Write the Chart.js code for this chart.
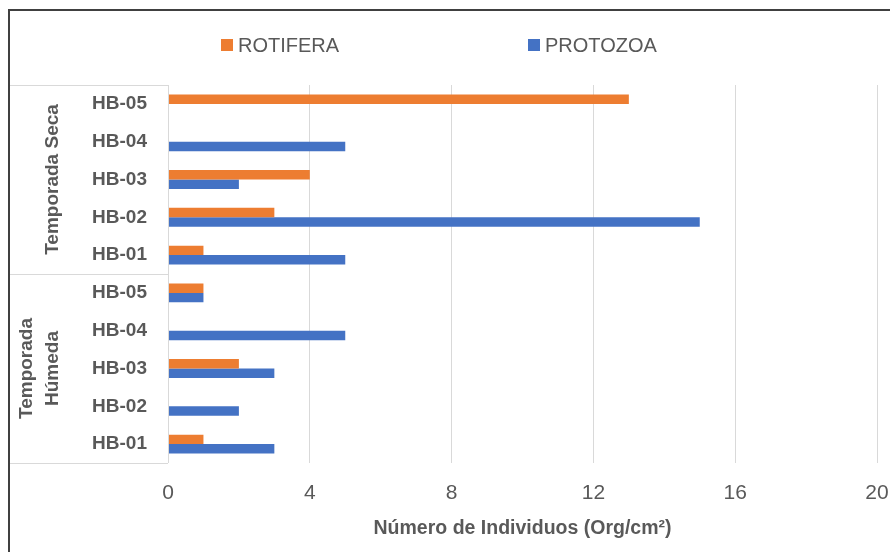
<!DOCTYPE html>
<html>
<head>
<meta charset="utf-8">
<title>Número de Individuos</title>
<script src="https://cdn.jsdelivr.net/npm/chart.js@4.4.1/dist/chart.umd.min.js"></script>
<style>
  html, body { margin: 0; padding: 0; background: #fff; }
  #wrap { position: relative; width: 890px; height: 552px; }
</style>
</head>
<body>
<div id="wrap"><canvas id="barGraph" width="890" height="552"></canvas></div>
<script>
// data (top row first)
const stations = ["HB-05", "HB-04", "HB-03", "HB-02", "HB-01", "HB-05", "HB-04", "HB-03", "HB-02", "HB-01"];
const rotifera = [13, 0, 4, 3, 1, 1, 0, 2, 0, 1];
const protozoa = [0, 5, 2, 15, 5, 1, 5, 3, 2, 3];
const seasonNames = [["Temporada Seca"], ["Temporada", "Húmeda"]];
const seasonSizes = [5, 5];
const xTicks = [0, 4, 8, 12, 16, 20];

const FONT = '"Liberation Sans Narrow", "Arial Narrow", "Liberation Sans", Arial, sans-serif';
const GREY = "#595959";
const LINE = "#d9d9d9";

// legend + season group box + outer frame
const decor = {
  id: "decor",
  afterDraw(chart) {
    const ctx = chart.ctx;
    const area = chart.chartArea;
    const y = chart.scales.y;
    ctx.save();

    // outer frame (only top and left show in the crop)
    ctx.strokeStyle = "#404040";
    ctx.lineWidth = 2;
    ctx.beginPath();
    ctx.moveTo(9, 552);
    ctx.lineTo(9, 10);
    ctx.lineTo(890, 10);
    ctx.stroke();

    // legend
    const legendX = [221, 528];
    ctx.font = "20px " + FONT;
    ctx.textBaseline = "middle";
    ctx.textAlign = "left";
    chart.data.datasets.forEach((ds, i) => {
      ctx.fillStyle = ds.backgroundColor;
      ctx.fillRect(legendX[i], 39, 12, 12);
      ctx.fillStyle = GREY;
      ctx.fillText(ds.label, legendX[i] + 17, 46);
    });

    // season boxes
    ctx.strokeStyle = LINE;
    ctx.lineWidth = 1;
    const half = (y.getPixelForValue(1) - y.getPixelForValue(0)) / 2;
    let start = 0;
    seasonSizes.forEach((n, g) => {
      const top = y.getPixelForValue(start) - half;
      const bottom = y.getPixelForValue(start + n - 1) + half;
      ctx.beginPath();
      ctx.moveTo(10, Math.round(top) + 0.5);
      ctx.lineTo(area.left, Math.round(top) + 0.5);
      ctx.moveTo(10, Math.round(bottom) + 0.5);
      ctx.lineTo(area.left, Math.round(bottom) + 0.5);
      ctx.stroke();

      const lines = seasonNames[g];
      const cx = 53 - (lines.length - 1) * 26;
      ctx.save();
      ctx.translate(cx, (top + bottom) / 2);
      ctx.rotate(-Math.PI / 2);
      ctx.font = "bold 19px " + FONT;
      ctx.fillStyle = GREY;
      ctx.textAlign = "center";
      ctx.textBaseline = "middle";
      lines.forEach((t, k) => ctx.fillText(t, 0, k * 26));
      ctx.restore();
      start += n;
    });
    ctx.beginPath();
    ctx.moveTo(Math.round(area.left) + 0.5, area.top);
    ctx.lineTo(Math.round(area.left) + 0.5, area.bottom);
    ctx.stroke();
    ctx.restore();
  }
};

const ctx = document.getElementById("barGraph").getContext("2d");
new Chart(ctx, {
  type: "bar",
  data: {
    labels: stations,
    datasets: [
      { label: "ROTIFERA", data: rotifera, backgroundColor: "#ED7D31" },
      { label: "PROTOZOA", data: protozoa, backgroundColor: "#4472C4" }
    ]
  },
  options: {
    indexAxis: "y",
    responsive: false,
    devicePixelRatio: 1,
    animation: false,
    layout: { padding: { top: 85, right: 0, left: 0, bottom: 0 } },
    datasets: { bar: { categoryPercentage: 0.5, barPercentage: 1 } },
    plugins: { legend: { display: false }, tooltip: { enabled: false } },
    scales: {
      x: {
        min: 0,
        max: 20,
        afterBuildTicks: (scale) => { scale.ticks = xTicks.map((v) => ({ value: v })); },
        grid: { color: LINE, drawTicks: false },
        border: { display: false },
        ticks: { color: GREY, font: { family: FONT, size: 21 }, padding: 18 },
        title: {
          display: true,
          text: "Número de Individuos (Org/cm²)",
          color: GREY,
          font: { family: FONT, size: 19.5, weight: "bold" },
          padding: { top: 4, bottom: 12 }
        },
        afterFit: (scale) => {
          scale.height = 89;
          scale.paddingLeft = 0;
          scale.paddingRight = 13;
        }
      },
      y: {
        grid: { display: false, drawTicks: false },
        border: { display: false },
        ticks: { color: GREY, font: { family: FONT, size: 19, weight: "bold" }, padding: 21 },
        afterFit: (scale) => { scale.width = 168; }
      }
    }
  },
  plugins: [decor]
});
</script>
</body>
</html>
